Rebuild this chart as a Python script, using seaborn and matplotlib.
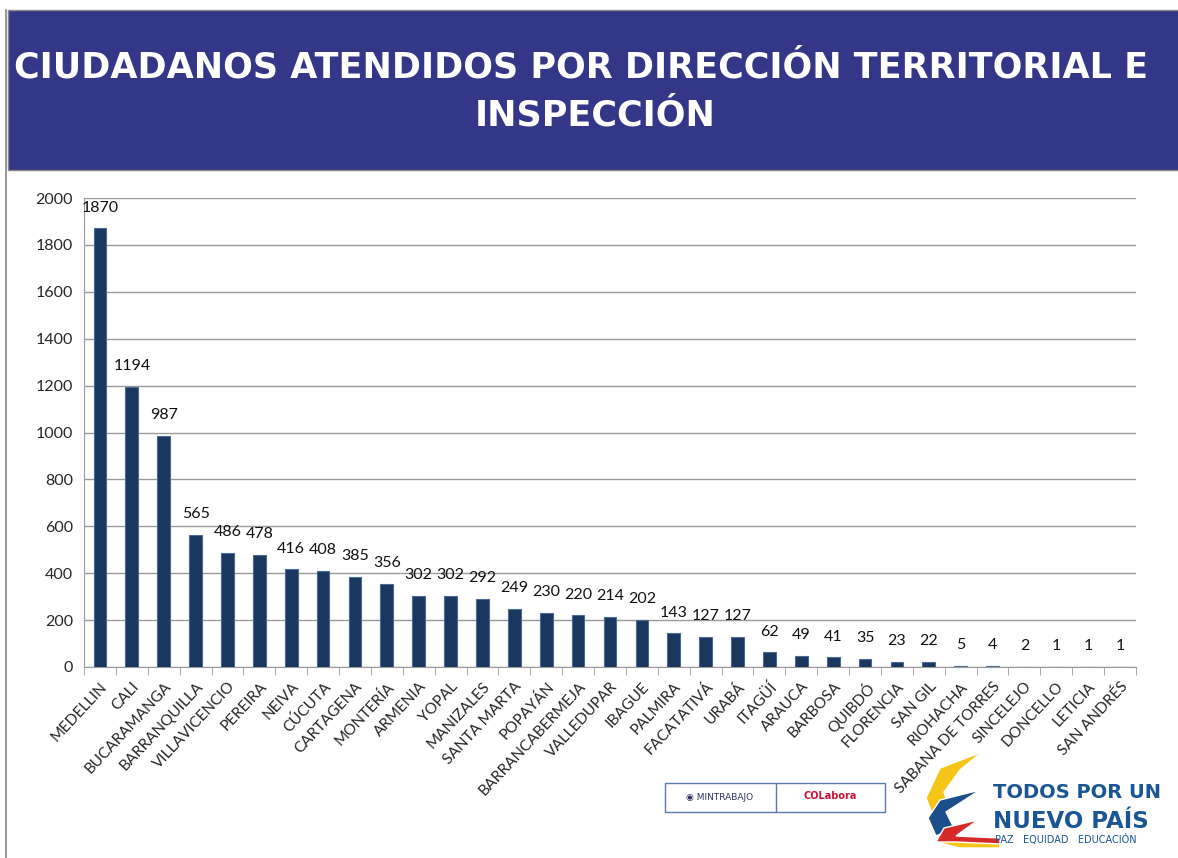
import matplotlib
matplotlib.use('Agg')
import matplotlib.pyplot as plt
import matplotlib.patches as mpatches
import numpy as np
import pandas as pd
import seaborn as sns

# datos
ciudades = ['MEDELLIN', 'CALI', 'BUCARAMANGA', 'BARRANQUILLA', 'VILLAVICENCIO', 'PEREIRA',
            'NEIVA', 'CÚCUTA', 'CARTAGENA', 'MONTERÍA', 'ARMENIA', 'YOPAL', 'MANIZALES',
            'SANTA MARTA', 'POPAYÁN', 'BARRANCABERMEJA', 'VALLEDUPAR', 'IBAGUE', 'PALMIRA',
            'FACATATIVÁ', 'URABÁ', 'ITAGÜÍ', 'ARAUCA', 'BARBOSA', 'QUIBDÓ', 'FLORENCIA',
            'SAN GIL', 'RIOHACHA', 'SABANA DE TORRES', 'SINCELEJO', 'DONCELLO', 'LETICIA',
            'SAN ANDRÉS']
atendidos = [1870, 1194, 987, 565, 486, 478, 416, 408, 385, 356, 302, 302, 292, 249, 230,
             220, 214, 202, 143, 127, 127, 62, 49, 41, 35, 23, 22, 5, 4, 2, 1, 1, 1]
y_ticks = [0, 200, 400, 600, 800, 1000, 1200, 1400, 1600, 1800, 2000]

titulo_1 = 'CIUDADANOS ATENDIDOS POR DIRECCIÓN TERRITORIAL E'
titulo_2 = 'INSPECCIÓN'

df = pd.DataFrame({'ciudad': ciudades, 'atendidos': atendidos})

sns.set_style('white')
plt.rcParams['font.family'] = ['Lato', 'DejaVu Sans']

W, H = 1178, 858
fig = plt.figure(figsize=(W / 100, H / 100), dpi=100)

# banda del titulo
fig.patches.append(mpatches.Rectangle((8 / W, 1 - 170 / H), 1, 160 / H,
                                      transform=fig.transFigure, facecolor='#343687',
                                      edgecolor='#888888', linewidth=1, zorder=0))
fig.add_artist(plt.Line2D([6 / W, 6 / W], [0, 1 - 10 / H], transform=fig.transFigure,
                          color='#999999', linewidth=1.5))
fig.text(14 / W, 1 - 68 / H, titulo_1, color='white', fontsize=25.2, fontweight='bold',
         family='DejaVu Sans', ha='left', va='center')
fig.text(595 / W, 1 - 116 / H, titulo_2, color='white', fontsize=25.2, fontweight='bold',
         family='DejaVu Sans', ha='center', va='center')

ax = fig.add_axes([84 / W, 1 - 667 / H, (1136 - 84) / W, (667 - 198) / H])
sns.barplot(data=df, x='ciudad', y='atendidos', color='#1b365f', width=0.4,
            edgecolor='#4b6a96', linewidth=0.8, saturation=1, ax=ax, zorder=3)

for i, v in enumerate(atendidos):
    ax.annotate(str(v), (i, v), xytext=(0, 15), textcoords='offset points',
                ha='center', va='center', fontsize=11.5, color='#111111')

ax.set_ylim(0, 2000)
ax.set_xlim(-0.5, len(ciudades) - 0.5)
ax.set_yticks(y_ticks)
ax.set_yticklabels([str(t) for t in y_ticks], fontsize=11.5)
ax.yaxis.grid(True, color='#9a9a9a', linewidth=1, zorder=0)
ax.set_axisbelow(True)
ax.set_xlabel('')
ax.set_ylabel('')

ax.set_xticks(range(len(ciudades)))
ax.set_xticklabels(ciudades, rotation=47, ha='right', rotation_mode='anchor', fontsize=11)
ax.tick_params(axis='x', length=0, pad=9)
ax.tick_params(axis='y', length=0, pad=8)
ax.set_xticks(np.arange(-0.5, len(ciudades)), minor=True)
ax.tick_params(axis='x', which='minor', length=6, color='#9a9a9a', direction='out')
ax.xaxis.set_ticks_position('bottom')

for s in ['top', 'right']:
    ax.spines[s].set_visible(False)
ax.spines['left'].set_color('#9a9a9a')
ax.spines['bottom'].set_color('#9a9a9a')

# logos (aproximacion)
fig.patches.append(mpatches.Rectangle((665 / W, 1 - 812 / H), 220 / W, 29 / H,
                                      transform=fig.transFigure, facecolor='white',
                                      edgecolor='#5a7ab0', linewidth=1))
fig.add_artist(plt.Line2D([776 / W, 776 / W], [1 - 812 / H, 1 - 783 / H],
                          transform=fig.transFigure, color='#5a7ab0', linewidth=1))
fig.text(720 / W, 1 - 797 / H, '◉ MINTRABAJO', fontsize=6.5, color='#333366',
         ha='center', va='center', family='DejaVu Sans')
fig.text(830 / W, 1 - 796 / H, 'COLabora', fontsize=7, color='#cc1133',
         ha='center', va='center', fontweight='bold', family='DejaVu Sans')

sw = fig.add_axes([920 / W, 1 - 848 / H, 80 / W, 96 / H])
sw.axis('off')
sw.set_xlim(0, 80)
sw.set_ylim(0, 96)
sw.add_patch(mpatches.Polygon([[62, 96], [20, 80], [6, 50], [14, 30], [30, 36], [24, 56], [40, 78]],
                              closed=True, facecolor='#f5c518'))
sw.add_patch(mpatches.Polygon([[60, 58], [20, 48], [8, 30], [16, 12], [34, 20], [26, 36]],
                              closed=True, facecolor='#1c4e8c'))
sw.add_patch(mpatches.Polygon([[58, 28], [24, 20], [16, 6], [40, 2], [80, 2], [80, 10], [36, 12]],
                              closed=True, facecolor='#d62a2a'))
sw.add_patch(mpatches.Polygon([[16, 6], [40, 0], [80, 0], [80, 4], [36, 6]],
                              closed=True, facecolor='#f5c518'))

fig.text(993 / W, 1 - 793 / H, 'TODOS POR UN', fontsize=14, fontweight='bold',
         color='#1a5596', ha='left', va='center', family='DejaVu Sans')
fig.text(993 / W, 1 - 821 / H, 'NUEVO PAÍS', fontsize=16.5, fontweight='bold',
         color='#1a5596', ha='left', va='center', family='DejaVu Sans')
fig.text(995 / W, 1 - 840 / H, 'PAZ   EQUIDAD   EDUCACIÓN', fontsize=7,
         color='#1a5596', ha='left', va='center', family='DejaVu Sans')

fig.savefig('out.png', dpi=100)
